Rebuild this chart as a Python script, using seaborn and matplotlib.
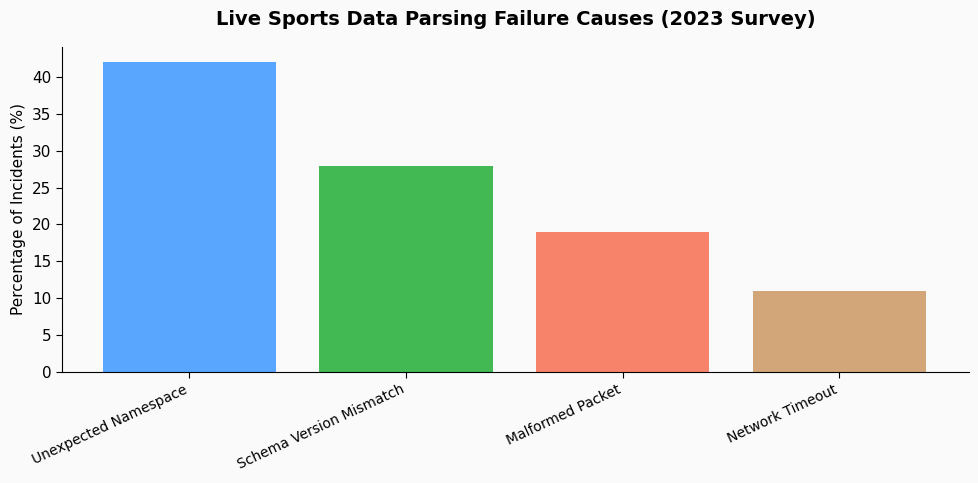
import seaborn as sns
import matplotlib.pyplot as plt

causes = ['Unexpected Namespace', 'Schema Version Mismatch', 'Malformed Packet', 'Network Timeout']
percentages = [42, 28, 19, 11]
colors = ['#58a6ff', '#42b953', '#f8836b', '#d2a679']

sns.set_style('white')
plt.rcParams['font.family'] = ['DejaVu Sans']
plt.rcParams['text.color'] = 'black'
plt.rcParams['axes.labelcolor'] = 'black'
plt.rcParams['xtick.color'] = 'black'
plt.rcParams['ytick.color'] = 'black'
plt.rcParams['axes.edgecolor'] = 'black'

fig, ax = plt.subplots(figsize=(9.79, 4.83), dpi=100)
fig.patch.set_facecolor('#fafafa')
ax.set_facecolor('#fafafa')

sns.barplot(x=causes, y=percentages, hue=causes, palette=colors, width=0.8,
            saturation=1, legend=False, linewidth=0, ax=ax)

ax.set_xlim(-0.59, 3.6)
ax.set_ylim(0, 44.1)
ax.set_title('Live Sports Data Parsing Failure Causes (2023 Survey)',
             fontsize=14, fontweight='bold', pad=16)
ax.set_ylabel('Percentage of Incidents (%)', fontsize=11)
ax.set_xlabel('')
ax.tick_params(axis='y', labelsize=11, left=True, length=4)
ax.tick_params(axis='x', labelsize=10, bottom=True, length=4)
plt.setp(ax.get_xticklabels(), rotation=25, ha='right')
sns.despine(ax=ax)

plt.subplots_adjust(left=0.063, right=0.99, top=0.903, bottom=0.23)
plt.savefig('out.png', dpi=100, facecolor=fig.get_facecolor())
